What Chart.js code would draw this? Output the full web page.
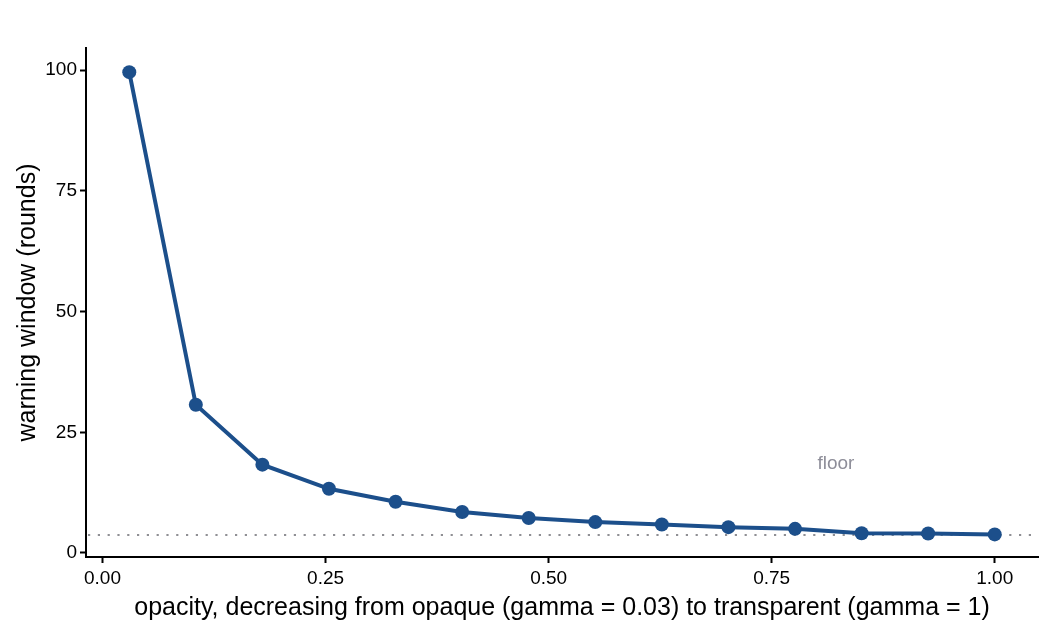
<!DOCTYPE html>
<html>
<head>
<meta charset="utf-8">
<script src="https://cdn.jsdelivr.net/npm/chart.js@4.4.1/dist/chart.umd.min.js"></script>
<style>
  html, body { margin: 0; padding: 0; background: #fff; }
  #wrap { width: 1050px; height: 630px; }
</style>
</head>
<body>
<div id="wrap"><canvas id="grafico" width="1050" height="630"></canvas></div>
<script>
// datos
const opacidad = [0.03, 0.1046, 0.1792, 0.2538, 0.3285, 0.4031, 0.4777, 0.5523, 0.6269, 0.7015, 0.7762, 0.8508, 0.9254, 1.0];
const ventana = [99.6, 30.7, 18.3, 13.3, 10.6, 8.5, 7.25, 6.4, 5.9, 5.35, 5.0, 4.1, 4.05, 3.85];
const piso = 3.8;
const ticksX = [0, 0.25, 0.5, 0.75, 1.0];
const ticksY = [0, 25, 50, 75, 100];
const etiquetaPiso = { x: 0.822, y: 18.4, texto: 'floor' };

const fuente = '"Liberation Sans", Arial, Helvetica, sans-serif';

// linea punteada del piso y su etiqueta
const pluginPiso = {
    id: 'piso',
    beforeDatasetsDraw(chart) {
        const { ctx, chartArea, scales } = chart;
        const y = Math.round(scales.y.getPixelForValue(piso));
        ctx.save();
        ctx.strokeStyle = '#8f8f94';
        ctx.lineWidth = 2;
        ctx.setLineDash([2.2, 7.6]);
        ctx.beginPath();
        ctx.moveTo(Math.round(chartArea.left) + 2, y);
        ctx.lineTo(chartArea.right, y);
        ctx.stroke();
        ctx.setLineDash([]);
        ctx.fillStyle = '#8e8e99';
        ctx.font = '19px ' + fuente;
        ctx.textAlign = 'center';
        ctx.textBaseline = 'middle';
        ctx.fillText(etiquetaPiso.texto, scales.x.getPixelForValue(etiquetaPiso.x), scales.y.getPixelForValue(etiquetaPiso.y));
        ctx.restore();
    }
};

const datos = opacidad.map((x, i) => ({ x: x, y: ventana[i] }));

new Chart(document.getElementById('grafico').getContext('2d'), {
    type: 'line',
    data: {
        datasets: [{
            data: datos,
            borderColor: '#1c4f8b',
            backgroundColor: '#1c4f8b',
            borderWidth: 4,
            pointRadius: 7,
            pointBorderWidth: 0,
            tension: 0
        }]
    },
    options: {
        responsive: false,
        animation: false,
        layout: { padding: { top: 48, right: 12, left: 0, bottom: 0 } },
        plugins: { legend: { display: false }, tooltip: { enabled: false } },
        scales: {
            x: {
                type: 'linear',
                min: -0.0185,
                max: 1.0485,
                afterBuildTicks: s => { s.ticks = ticksX.map(v => ({ value: v })); },
                afterFit: s => { s.height = 73; },
                border: { display: true, color: '#000', width: 2 },
                grid: { drawOnChartArea: false, tickLength: 6, tickColor: '#000', tickWidth: 2 },
                ticks: {
                    color: '#000',
                    padding: 4,
                    maxRotation: 0,
                    font: { family: fuente, size: 19 },
                    callback: v => v.toFixed(2)
                },
                title: {
                    display: true,
                    text: 'opacity, decreasing from opaque (gamma = 0.03) to transparent (gamma = 1)',
                    color: '#000',
                    font: { family: fuente, size: 25 },
                    padding: { top: 0, bottom: 7 }
                }
            },
            y: {
                min: -0.83,
                max: 104.6,
                afterBuildTicks: s => { s.ticks = ticksY.map(v => ({ value: v })); },
                afterFit: s => { s.width = 86; },
                border: { display: true, color: '#000', width: 2 },
                grid: { drawOnChartArea: false, tickLength: 6, tickColor: '#000', tickWidth: 2 },
                ticks: {
                    color: '#000',
                    padding: 3,
                    font: { family: fuente, size: 19 },
                    callback: v => String(v)
                },
                title: {
                    display: true,
                    text: 'warning window (rounds)',
                    color: '#000',
                    font: { family: fuente, size: 25 },
                    padding: { top: 13, bottom: 0 }
                }
            }
        }
    },
    plugins: [pluginPiso]
});
</script>
</body>
</html>
